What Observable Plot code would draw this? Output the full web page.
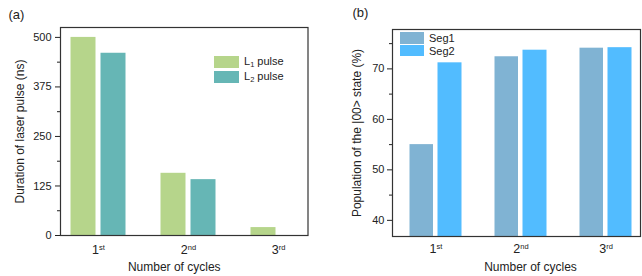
<!DOCTYPE html>
<html>
<head>
<meta charset="utf-8">
<script src="https://cdn.jsdelivr.net/npm/d3@7"></script>
<script src="https://cdn.jsdelivr.net/npm/@observablehq/plot@0.6"></script>
<style>
  html, body { margin: 0; padding: 0; background: #fff; }
  #wrap { position: relative; width: 642px; height: 276px; display: flex; font-family: "Liberation Sans", Arial, sans-serif; color: #222; }
  #wrap svg { display: block; }
  .leg { position: absolute; display: flex; align-items: center; font-size: 11px; color: #222; white-space: nowrap; }
  .sw { display: inline-block; margin-right: 5px; }
  sub { font-size: 7.5px; vertical-align: -2px; }
</style>
</head>
<body>
<div id="wrap"></div>
<script>
// ---- data ----
const cycles = ["1st", "2nd", "3rd"];
const pulseL1 = [500, 157, 20];
const pulseL2 = [460, 141, 0];
const seg1 = [55.0, 72.4, 74.1];
const seg2 = [71.2, 73.7, 74.2];
const pulseTicks = [0, 125, 250, 375, 500];
const pulseMinor = [62.5, 187.5, 312.5, 437.5];
const popTicks = [40, 50, 60, 70];
const popMinor = [45, 55, 65, 75];

const colL1 = "#b6d58b", colL2 = "#66b6b5", colS1 = "#80b3d3", colS2 = "#52bcff";

const rowsA1 = cycles.map((c, i) => ({cycle: c, value: pulseL1[i]}));
const rowsA2 = cycles.map((c, i) => ({cycle: c, value: pulseL2[i]}));
const rowsB1 = cycles.map((c, i) => ({cycle: c, value: seg1[i]}));
const rowsB2 = cycles.map((c, i) => ({cycle: c, value: seg2[i]}));

const font = {fontFamily: "Liberation Sans, Arial, sans-serif", fontSize: "11px", color: "#222", background: "#fff"};

function supers(svg) {
  svg.querySelectorAll('g[aria-label="x-axis tick label"] text').forEach(t => {
    const m = t.textContent.match(/^(\d+)(\D+)$/);
    if (!m) return;
    t.textContent = m[1];
    const ts = document.createElementNS("http://www.w3.org/2000/svg", "tspan");
    ts.setAttribute("font-size", "7.5");
    ts.setAttribute("dy", "-4.5");
    ts.textContent = m[2];
    t.appendChild(ts);
  });
}

const blank = () => "";

const plotA = Plot.plot({
  width: 321, height: 276,
  marginLeft: 60, marginRight: 13.5, marginTop: 27, marginBottom: 41,
  style: font,
  x: {domain: cycles, range: [52.5, 322.5], padding: 0},
  y: {domain: [0, 525]},
  marks: [
    Plot.barY(rowsA1, {x: "cycle", y: "value", fill: colL1, insetLeft: 17.5, insetRight: 47.5}),
    Plot.barY(rowsA2, {x: "cycle", y: "value", fill: colL2, insetLeft: 47.5, insetRight: 17.5}),
    Plot.axisY(pulseTicks, {tickSize: 5, tickPadding: 4, fontSize: 11, label: null}),
    Plot.axisY(pulseMinor, {tickSize: 3, tickFormat: blank, label: null}),
    Plot.axisX({tickSize: 0, tickPadding: 10, fontSize: 12.5, label: null}),
    Plot.frame({stroke: "#333", strokeWidth: 1.2}),
    Plot.text(["Duration of laser pulse (ns)"], {frameAnchor: "left", textAnchor: "middle", lineAnchor: "middle", rotate: -90, dx: -40, fontSize: 12}),
    Plot.text(["Number of cycles"], {frameAnchor: "bottom", textAnchor: "middle", lineAnchor: "middle", dy: 32, dx: -10, fontSize: 12}),
    Plot.text(["(a)"], {frameAnchor: "top-left", textAnchor: "start", lineAnchor: "middle", dx: -52, dy: -13, fontSize: 13})
  ]
});

const plotB = Plot.plot({
  width: 321, height: 276,
  marginLeft: 71, marginRight: 2, marginTop: 29, marginBottom: 40,
  style: font,
  x: {domain: cycles, range: [71.5, 326.5], padding: 0},
  y: {domain: [36.8, 77.8]},
  marks: [
    Plot.barY(rowsB1, {x: "cycle", y: "value", fill: colS1, insetLeft: 16.5, insetRight: 45, clip: true}),
    Plot.barY(rowsB2, {x: "cycle", y: "value", fill: colS2, insetLeft: 44.5, insetRight: 16.5, clip: true}),
    Plot.axisY(popTicks, {tickSize: 5, tickPadding: 3, fontSize: 11, label: null}),
    Plot.axisY(popMinor, {tickSize: 3, tickFormat: blank, label: null}),
    Plot.axisX({tickSize: 0, tickPadding: 8, fontSize: 12.5, label: null}),
    Plot.frame({stroke: "#333", strokeWidth: 1.2}),
    Plot.text(["Population of the |00> state (%)"], {frameAnchor: "left", textAnchor: "middle", lineAnchor: "middle", rotate: -90, dx: -35, fontSize: 12}),
    Plot.text(["Number of cycles"], {frameAnchor: "bottom", textAnchor: "middle", lineAnchor: "middle", dy: 31, dx: 14, fontSize: 12}),
    Plot.text(["(b)"], {frameAnchor: "top-left", textAnchor: "start", lineAnchor: "middle", dx: -40, dy: -17, fontSize: 13})
  ]
});

supers(plotA); supers(plotB);
const wrap = document.getElementById("wrap");
wrap.appendChild(plotA);
wrap.appendChild(plotB);

function legend(x, y, items, w, h, gap) {
  items.forEach((it, i) => {
    const d = document.createElement("div");
    d.className = "leg";
    d.style.left = x + "px";
    d.style.top = (y + i * gap) + "px";
    d.innerHTML = `<span class="sw" style="width:${w}px;height:${h}px;background:${it.color}"></span><span>${it.label}</span>`;
    wrap.appendChild(d);
  });
}
legend(214, 55, [{color: colL1, label: "L<sub>1</sub> pulse"}, {color: colL2, label: "L<sub>2</sub> pulse"}], 25, 11.7, 15);
legend(400, 32, [{color: colS1, label: "Seg1"}, {color: colS2, label: "Seg2"}], 24, 11.5, 12.5);
</script>
</body>
</html>
